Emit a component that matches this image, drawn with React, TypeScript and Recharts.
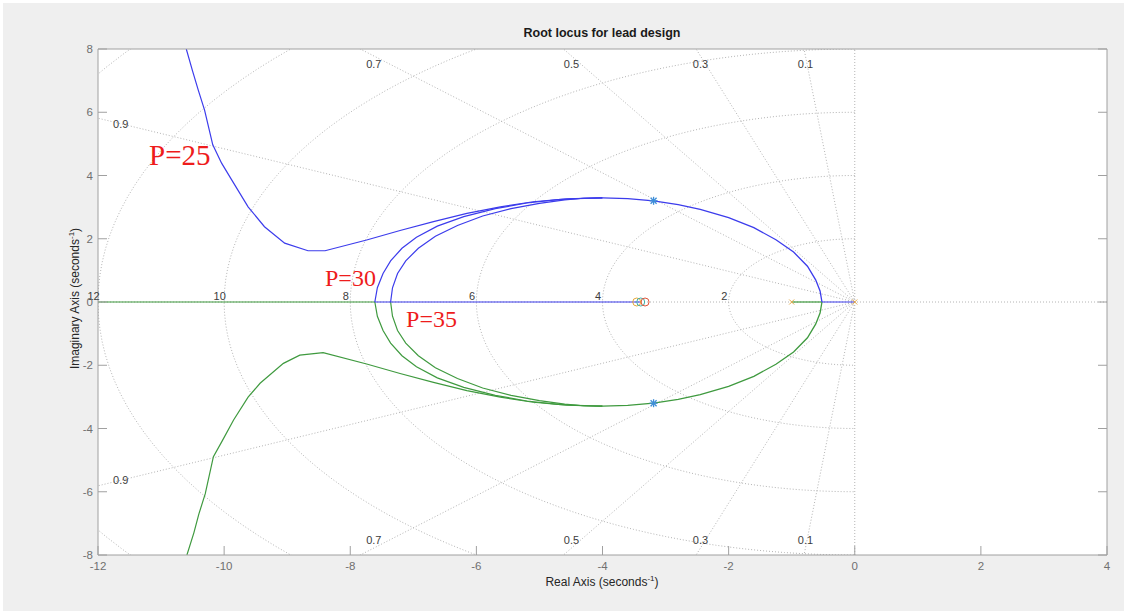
import React from 'react'
import { ComposedChart, Line, Scatter, XAxis, YAxis, ReferenceDot } from 'recharts'

const SANS = '"Liberation Sans", Arial, Helvetica, sans-serif'
const SERIF = '"Liberation Serif", "Times New Roman", serif'

const xTicks = [-12, -10, -8, -6, -4, -2, 0, 2, 4]
const yTicks = [-8, -6, -4, -2, 0, 2, 4, 6, 8]

// sgrid: damping ratios and natural frequencies shown
const dampingRatios = [0.1, 0.3, 0.5, 0.7, 0.9]
const naturalFreqs = [2, 4, 6, 8, 10, 12, 14]

const p25Upper = [
  [-10.6, 8.0], [-10.5, 7.3], [-10.41, 6.7], [-10.31, 6.07], [-10.18, 4.97], [-10.04, 4.39],
  [-9.88, 3.86], [-9.62, 3.01], [-9.36, 2.38], [-9.04, 1.86], [-8.67, 1.62], [-8.4, 1.62],
  [-7.74, 1.96], [-7.21, 2.26], [-6.68, 2.54], [-6.15, 2.8], [-5.62, 3.01], [-5.1, 3.17],
  [-4.57, 3.26], [-4.0, 3.29],
]
const p25Lower = [
  [-10.59, -8.0], [-10.48, -7.3], [-10.4, -6.7], [-10.3, -6.07], [-10.17, -4.89], [-10.03, -4.39],
  [-9.85, -3.73], [-9.62, -3.01], [-9.43, -2.57], [-9.06, -1.94], [-8.8, -1.68], [-8.43, -1.6],
  [-7.74, -1.96], [-7.21, -2.26], [-6.68, -2.54], [-6.15, -2.8], [-5.62, -3.01], [-5.1, -3.17],
  [-4.57, -3.26], [-4.0, -3.29],
]
const p30Upper = [
  [-7.61, 0], [-7.57, 0.45], [-7.48, 0.9], [-7.36, 1.3], [-7.18, 1.7], [-6.95, 2.05],
  [-6.62, 2.4], [-6.2, 2.7], [-5.7, 2.95], [-5.2, 3.13], [-4.7, 3.24], [-4.3, 3.28], [-4.0, 3.29],
]
const p30Lower = [
  [-7.61, 0], [-7.57, -0.45], [-7.48, -0.9], [-7.36, -1.3], [-7.18, -1.7], [-6.95, -2.05],
  [-6.62, -2.4], [-6.2, -2.7], [-5.7, -2.95], [-5.2, -3.13], [-4.7, -3.24], [-4.3, -3.28], [-4.0, -3.29],
]
const p35Upper = [
  [-7.36, 0], [-7.33, 0.45], [-7.25, 0.9], [-7.12, 1.3], [-6.92, 1.7], [-6.65, 2.08],
  [-6.3, 2.42], [-5.9, 2.72], [-5.45, 2.95], [-5.0, 3.12], [-4.6, 3.23], [-4.3, 3.28], [-4.0, 3.29],
]
const p35Lower = [
  [-7.36, 0], [-7.33, -0.45], [-7.25, -0.9], [-7.12, -1.3], [-6.92, -1.7], [-6.65, -2.08],
  [-6.3, -2.42], [-5.9, -2.72], [-5.45, -2.95], [-5.0, -3.12], [-4.6, -3.23], [-4.3, -3.28], [-4.0, -3.29],
]
// right part of the loop, common to all three designs
const sharedUpper = [
  [-4.0, 3.29], [-3.6, 3.27], [-3.19, 3.2], [-2.8, 3.08], [-2.45, 2.93], [-2.0, 2.67],
  [-1.6, 2.35], [-1.25, 1.97], [-0.97, 1.58], [-0.75, 1.13], [-0.62, 0.7], [-0.55, 0.35], [-0.52, 0],
]
const sharedLower = [
  [-4.0, -3.29], [-3.6, -3.27], [-3.19, -3.2], [-2.8, -3.08], [-2.45, -2.93], [-2.0, -2.67],
  [-1.6, -2.35], [-1.25, -1.97], [-0.97, -1.58], [-0.75, -1.13], [-0.62, -0.7], [-0.55, -0.35], [-0.52, 0],
]
const axisGreenLeft = [[-12, 0], [-7.61, 0]]
const axisBlue = [[-7.61, 0], [-3.4, 0]]
const axisGreenRight = [[-1.0, 0], [-0.52, 0]]
const axisBlueRight = [[-0.52, 0], [0, 0]]

const openLoopPoles = [[-1, 0], [0, 0]]
const leadZeros = [[-3.457, 0], [-3.394, 0], [-3.325, 0]]
const designPoints = [[-3.19, 3.2], [-3.19, -3.2]]

const BLUE = '#3c3cec'
const GREEN = '#3f9a3f'
const GRID = '#b4b4b4'
const zeroColors = ['#e8a93a', '#3fb0a8', '#e0553a']

const pts = (arr: number[][]) => arr.map(([x, y]) => ({ x, y }))

const circlePts = (wn: number) => {
  const out: { x: number; y: number }[] = []
  for (let a = 90; a <= 270; a += 2) {
    const t = (a * Math.PI) / 180
    out.push({ x: wn * Math.cos(t), y: wn * Math.sin(t) })
  }
  return out
}

const rayPts = (z: number, sign: number) => [
  { x: 0, y: 0 },
  { x: -20 * z, y: sign * 20 * Math.sqrt(1 - z * z) },
]

const zetaLabelPos = (z: number, sign: number) => {
  const k = Math.sqrt(1 - z * z) / z
  let x = -7.78 / k
  let y = 7.52
  if (x < -11.64) {
    x = -11.64
    y = 11.64 * k
  }
  return { x, y: sign * y }
}

const gridLine = { stroke: GRID, strokeWidth: 1, strokeDasharray: '1 2', dot: false, activeDot: false, isAnimationActive: false }

const textShape = (txt: string, size: number, fill: string, family: string, anchor: string, dy: string) => (p: any) => (
  <text x={p.cx} y={p.cy} dy={dy} textAnchor={anchor} fontSize={size} fill={fill} fontFamily={family}>
    {txt}
  </text>
)

const poleShape = (p: any) => (
  <g stroke="#e4a847" strokeWidth={1}>
    <line x1={p.cx - 2.5} y1={p.cy - 2.5} x2={p.cx + 2.5} y2={p.cy + 2.5} />
    <line x1={p.cx - 2.5} y1={p.cy + 2.5} x2={p.cx + 2.5} y2={p.cy - 2.5} />
  </g>
)

const starShape = (p: any) => (
  <g stroke="#3f8fd8" strokeWidth={1.3}>
    <line x1={p.cx - 4} y1={p.cy} x2={p.cx + 4} y2={p.cy} />
    <line x1={p.cx} y1={p.cy - 4} x2={p.cx} y2={p.cy + 4} />
    <line x1={p.cx - 3} y1={p.cy - 3} x2={p.cx + 3} y2={p.cy + 3} />
    <line x1={p.cx - 3} y1={p.cy + 3} x2={p.cx + 3} y2={p.cy - 3} />
  </g>
)

const zeroShape = (color: string) => (p: any) => (
  <circle cx={p.cx} cy={p.cy} r={4} fill="none" stroke={color} strokeWidth={1} />
)

const tickStyle = { fill: '#707070', fontSize: 11.5, fontFamily: SANS }

export default function App() {
  return (
    <div style={{ position: 'relative', width: 1132, height: 614, background: '#ffffff', overflow: 'hidden' }}>
      <style>{'body{margin:0}'}</style>
      <div style={{ position: 'absolute', left: 3, top: 3, width: 1121, height: 608, background: '#efefef' }} />
      <div style={{ position: 'absolute', left: 98, top: 49, width: 1009, height: 506, background: '#ffffff' }} />

      <div style={{ position: 'absolute', left: 0, top: 0 }}>
        <ComposedChart width={1132} height={614} margin={{ top: 39, right: 15, bottom: 29, left: 38 }}>
          <XAxis type="number" dataKey="x" domain={[-12, 4]} ticks={xTicks} interval={0} allowDataOverflow
            height={30} tickSize={-9} tickMargin={16} stroke="#a0a0a0" tick={tickStyle} />
          <XAxis xAxisId="top" orientation="top" type="number" domain={[-12, 4]} ticks={xTicks} interval={0}
            allowDataOverflow height={10} tickSize={-9} stroke="#a0a0a0" tickFormatter={() => ''} />
          <YAxis type="number" dataKey="y" domain={[-8, 8]} ticks={yTicks} interval={0} allowDataOverflow
            width={60} tickSize={-9} tickMargin={14} stroke="#a0a0a0" tick={tickStyle} />
          <YAxis yAxisId="right" orientation="right" type="number" domain={[-8, 8]} ticks={yTicks} interval={0}
            allowDataOverflow width={10} tickSize={-9} stroke="#a0a0a0" tickFormatter={() => ''} />

          {naturalFreqs.map((wn) => (
            <Line key={'wn' + wn} data={circlePts(wn)} dataKey="y" {...gridLine} />
          ))}
          {dampingRatios.map((z) => (
            <Line key={'zu' + z} data={rayPts(z, 1)} dataKey="y" {...gridLine} />
          ))}
          {dampingRatios.map((z) => (
            <Line key={'zl' + z} data={rayPts(z, -1)} dataKey="y" {...gridLine} />
          ))}
          <Line data={[{ x: -12, y: 0 }, { x: 4, y: 0 }]} dataKey="y" {...gridLine} />
          <Line data={[{ x: 0, y: -8 }, { x: 0, y: 8 }]} dataKey="y" {...gridLine} />

          {naturalFreqs.filter((wn) => wn <= 12).map((wn) => (
            <ReferenceDot key={'wl' + wn} x={-wn - 0.07} y={0.19} r={1} ifOverflow="visible"
              shape={textShape(String(wn), 11, '#3c3c3c', SANS, 'middle', '0.35em')} />
          ))}
          {dampingRatios.map((z) => {
            const u = zetaLabelPos(z, 1)
            const l = zetaLabelPos(z, -1)
            return (
              <React.Fragment key={'zt' + z}>
                <ReferenceDot x={u.x} y={u.y} r={1} ifOverflow="visible"
                  shape={textShape(String(z), 11, '#3c3c3c', SANS, 'middle', '0.35em')} />
                <ReferenceDot x={l.x} y={l.y} r={1} ifOverflow="visible"
                  shape={textShape(String(z), 11, '#3c3c3c', SANS, 'middle', '0.35em')} />
              </React.Fragment>
            )
          })}

          <Line data={pts(axisGreenLeft)} dataKey="y" stroke={GREEN} strokeWidth={1.2} dot={false} activeDot={false} isAnimationActive={false} />
          <Line data={pts(axisGreenRight)} dataKey="y" stroke={GREEN} strokeWidth={1.2} dot={false} activeDot={false} isAnimationActive={false} />
          <Line data={pts(p25Lower)} dataKey="y" stroke={GREEN} strokeWidth={1.2} dot={false} activeDot={false} isAnimationActive={false} />
          <Line data={pts(p30Lower)} dataKey="y" stroke={GREEN} strokeWidth={1.2} dot={false} activeDot={false} isAnimationActive={false} />
          <Line data={pts(p35Lower)} dataKey="y" stroke={GREEN} strokeWidth={1.2} dot={false} activeDot={false} isAnimationActive={false} />
          <Line data={pts(sharedLower)} dataKey="y" stroke={GREEN} strokeWidth={1.3} dot={false} activeDot={false} isAnimationActive={false} />
          <Line data={pts(axisBlue)} dataKey="y" stroke={BLUE} strokeWidth={1.2} dot={false} activeDot={false} isAnimationActive={false} />
          <Line data={pts(axisBlueRight)} dataKey="y" stroke={BLUE} strokeWidth={1.2} dot={false} activeDot={false} isAnimationActive={false} />
          <Line data={pts(p25Upper)} dataKey="y" stroke={BLUE} strokeWidth={1.2} dot={false} activeDot={false} isAnimationActive={false} />
          <Line data={pts(p30Upper)} dataKey="y" stroke={BLUE} strokeWidth={1.2} dot={false} activeDot={false} isAnimationActive={false} />
          <Line data={pts(p35Upper)} dataKey="y" stroke={BLUE} strokeWidth={1.2} dot={false} activeDot={false} isAnimationActive={false} />
          <Line data={pts(sharedUpper)} dataKey="y" stroke={BLUE} strokeWidth={1.3} dot={false} activeDot={false} isAnimationActive={false} />

          <Scatter data={pts(openLoopPoles)} shape={poleShape} isAnimationActive={false} />
          {leadZeros.map((zr, i) => (
            <Scatter key={'z' + i} data={pts([zr])} shape={zeroShape(zeroColors[i])} isAnimationActive={false} />
          ))}
          <Scatter data={pts(designPoints)} shape={starShape} isAnimationActive={false} />

          <ReferenceDot x={-11.19} y={4.33} r={1} ifOverflow="visible" shape={textShape('P=25', 29, '#ee1c1c', SERIF, 'start', '0')} />
          <ReferenceDot x={-8.4} y={0.5} r={1} ifOverflow="visible" shape={textShape('P=30', 24, '#ee1c1c', SERIF, 'start', '0')} />
          <ReferenceDot x={-7.115} y={-0.79} r={1} ifOverflow="visible" shape={textShape('P=35', 24, '#ee1c1c', SERIF, 'start', '0')} />
        </ComposedChart>
      </div>

      <div style={{ position: 'absolute', left: 402, width: 400, top: 26, textAlign: 'center', fontFamily: SANS, fontSize: 12.5, fontWeight: 'bold', color: '#1a1a1a' }}>
        Root locus for lead design
      </div>
      <div style={{ position: 'absolute', left: 452, width: 300, top: 574, textAlign: 'center', fontFamily: SANS, fontSize: 12, color: '#262626' }}>
        Real Axis (seconds<sup style={{ fontSize: 8 }}>-1</sup>)
      </div>
      <div style={{ position: 'absolute', left: 74 - 150, width: 300, top: 291, textAlign: 'center', fontFamily: SANS, fontSize: 12, color: '#262626', transform: 'rotate(-90deg)' }}>
        Imaginary Axis (seconds<sup style={{ fontSize: 8 }}>-1</sup>)
      </div>
    </div>
  )
}
